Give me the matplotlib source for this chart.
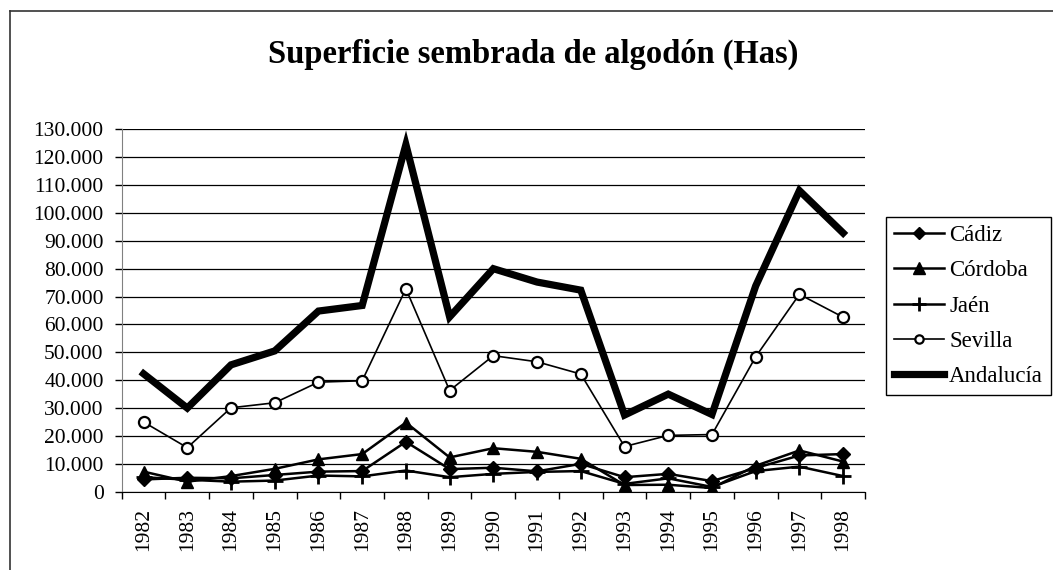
import matplotlib
matplotlib.use("Agg")
import matplotlib.pyplot as plt
from matplotlib.lines import Line2D
from matplotlib.ticker import FuncFormatter, FixedLocator

plt.rcParams['font.family'] = ['Liberation Serif', 'DejaVu Serif']

years = ['1982', '1983', '1984', '1985', '1986', '1987', '1988', '1989', '1990',
         '1991', '1992', '1993', '1994', '1995', '1996', '1997', '1998']
cadiz = [4400, 5000, 4800, 6000, 7200, 7400, 17900, 8100, 8600, 7300, 10000,
         5200, 6400, 3800, 8500, 13000, 13500]
cordoba = [7200, 3600, 5600, 8200, 11600, 13500, 24800, 12300, 15600, 14300, 11800,
           2400, 2500, 1300, 9300, 14800, 10800]
jaen = [5200, 4300, 3600, 4000, 5800, 5500, 7600, 5200, 6400, 7100, 7400,
        2800, 4800, 1700, 7400, 9000, 5600]
sevilla = [25000, 15800, 30100, 31900, 39300, 39800, 72800, 36300, 48800, 46600, 42200,
           16200, 20200, 20500, 48400, 70800, 62600]
andalucia = [42300, 30000, 45500, 50500, 64800, 66800, 124500, 62700, 80000, 75200, 72300,
             27500, 35000, 27700, 73800, 108000, 92800]

W, H = 1053, 570
fig = plt.figure(figsize=(W / 100, H / 100), dpi=100)
ax = fig.add_axes([121.7 / W, 1 - 491.7 / H, (865 - 121.7) / W, (491.7 - 129.3) / H])

x = list(range(len(years)))
ax.plot(x, cadiz, color='black', lw=1.8, marker='D', ms=7, mfc='black', mec='black',
        label='Cádiz', zorder=3)
ax.plot(x, cordoba, color='black', lw=1.8, marker='^', ms=9, mfc='black', mec='black',
        label='Córdoba', zorder=3)
ax.plot(x, jaen, color='black', lw=1.8, marker='+', ms=11, mew=2, label='Jaén', zorder=3)
ax.plot(x, sevilla, color='black', lw=1.2, marker='o', ms=8, mfc='white', mec='black',
        mew=1.6, label='Sevilla', zorder=3)
ax.plot(x, andalucia, color='black', lw=5.2, label='Andalucía', zorder=4,
        solid_joinstyle='miter')

ax.set_xlim(-0.5, len(years) - 0.5)
ax.set_ylim(0, 130000)
ax.set_yticks(range(0, 130001, 10000))
ax.yaxis.set_major_formatter(FuncFormatter(lambda v, p: f"{int(v):,}".replace(',', '.')))
ax.grid(axis='y', color='black', lw=0.9)
ax.set_axisbelow(True)

ax.xaxis.set_major_locator(FixedLocator([i - 0.5 for i in range(len(years) + 1)]))
ax.xaxis.set_major_formatter(FuncFormatter(lambda v, p: ''))
ax.xaxis.set_minor_locator(FixedLocator(x))
ax.set_xticklabels(years, minor=True, rotation=90)
ax.tick_params(axis='x', which='minor', length=0, pad=12, labelsize=15.5)
ax.tick_params(axis='x', which='major', length=5, width=1, direction='out')
ax.tick_params(axis='y', length=5, width=1, direction='out', pad=8, labelsize=15.5)

ax.spines['top'].set_visible(False)
ax.spines['right'].set_visible(False)
ax.spines['left'].set_color('#808080')
ax.spines['bottom'].set_color('black')

fig.text(533 / W, 1 - 54 / H, 'Superficie sembrada de algodón (Has)', ha='center',
         va='center', fontsize=23.5, fontweight='bold')

# outer chart border (left and top)
fig.add_artist(Line2D([10 / W, 10 / W], [0, 1 - 11 / H], color='#333333', lw=1.2,
                      transform=fig.transFigure))
fig.add_artist(Line2D([10 / W, 1], [1 - 11 / H, 1 - 11 / H], color='#333333', lw=1.2,
                      transform=fig.transFigure))

leg = fig.legend(loc='upper left', bbox_to_anchor=(886 / W, 1 - 217 / H), fontsize=16.5,
                 handlelength=2.2, handletextpad=0.2, borderaxespad=0, borderpad=0.35,
                 labelspacing=0.62, fancybox=False, framealpha=1, edgecolor='black')
leg.get_frame().set_linewidth(1.0)
for h in leg.legend_handles:
    if h.get_marker() in ('D',):
        h.set_markersize(6)
    elif h.get_marker() == '^':
        h.set_markersize(8)
    elif h.get_marker() == 'o':
        h.set_markersize(6)
    elif h.get_marker() == '+':
        h.set_markersize(10)

fig.savefig('out.png', dpi=100)
